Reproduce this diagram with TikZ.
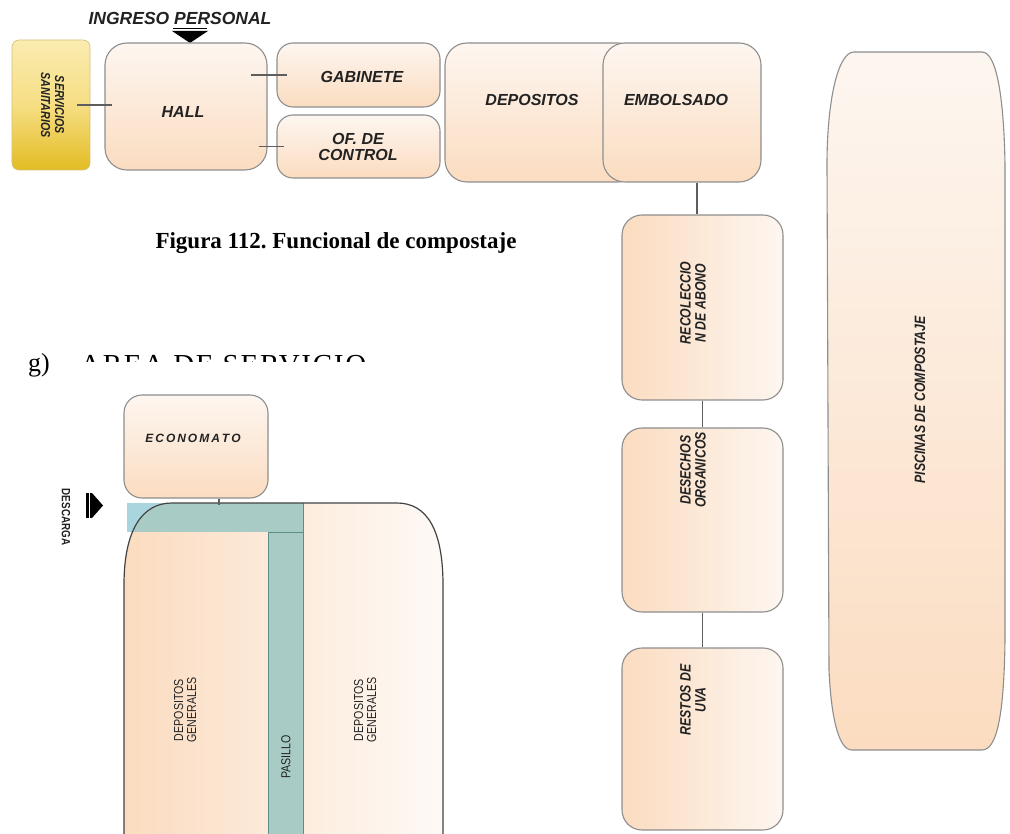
\documentclass[tikz,border=0pt]{standalone}
\usepackage{fontspec}
\setmainfont{Liberation Serif}
\newfontfamily\lblf{Liberation Sans}
\newfontfamily\narf[FakeStretch=0.82]{Liberation Sans}
\usetikzlibrary{calc}
\frenchspacing

\definecolor{peach}{HTML}{FBDCC0}
\definecolor{peachlt}{HTML}{FDF6F0}
\definecolor{boxline}{HTML}{8E8E8E}
\definecolor{wire}{HTML}{5E5E5E}
\definecolor{goldtop}{HTML}{FAECB0}
\definecolor{goldmid}{HTML}{F6DE84}
\definecolor{goldbot}{HTML}{E2BC22}
\definecolor{corridor}{HTML}{A8CCC5}
\definecolor{corridorblue}{HTML}{A9D5DE}
\definecolor{corridorline}{HTML}{5E8C87}
\definecolor{inkgray}{HTML}{222222}

\tikzset{
  room/.style={draw=boxline, line width=1.1pt, rounded corners=18pt,
    top color=peachlt, bottom color=peach, inner sep=0pt},
  roomside/.style={draw=boxline, line width=1.1pt, rounded corners=20pt,
    left color=peach, right color=peachlt, inner sep=0pt},
  lbl/.style={font=\lblf\bfseries\itshape\fontsize{16}{17}\selectfont,
    text=inkgray, align=center, inner sep=0pt},
  vlbl/.style={font=\narf\bfseries\itshape\fontsize{15}{15}\selectfont,
    text=inkgray, inner sep=0pt},
  smalllbl/.style={font=\narf\fontsize{13}{13}\selectfont,
    text=inkgray, inner sep=0pt},
  wirestyle/.style={draw=wire, line width=1.3pt},
}

\begin{document}
\begin{tikzpicture}[x=1pt, y=-1pt]
\useasboundingbox (0,0) rectangle (1010,834);
\fill[white] (0,0) rectangle (1010,834);

% ---------- compost plant ----------
\node[lbl, font=\lblf\bfseries\itshape\fontsize{17.5}{18}\selectfont, anchor=base] (ingreso) at (180,25) {INGRESO PERSONAL};
% entry marker
\draw[black, line width=0.8pt] (173,28) -- (207,28);
\fill[black] (172,31) -- (208,31) -- (190,43) -- cycle;

\node[draw=goldbot!80!black!60, line width=0.6pt, rounded corners=7pt,
  top color=goldtop, bottom color=goldbot, middle color=goldmid,
  minimum width=78pt, minimum height=130pt, inner sep=0pt] (serv) at (51,105) {};
\node[vlbl, font=\narf\bfseries\itshape\fontsize{13}{14}\selectfont, rotate=-90] (servtxt) at (serv.center)
  {\begin{tabular}{@{}c@{}}SERVICIOS\\SANITARIOS\end{tabular}};

\node[room, rounded corners=22pt, minimum width=162pt, minimum height=127pt] (hall) at (186,106.5) {};
\node[lbl] (halltxt) at (183,112) {HALL};

\node[room, rounded corners=16pt, minimum width=163pt, minimum height=64pt] (gab) at (358.5,75) {};
\node[lbl] (gabtxt) at (362,77) {GABINETE};
\node[room, rounded corners=16pt, minimum width=163pt, minimum height=63pt] (ofc) at (358.5,146.5) {};
\node[lbl, font=\lblf\bfseries\itshape\fontsize{16}{16}\selectfont] (ofctxt) at (358,147) {OF. DE\\CONTROL};

\node[room, rounded corners=22pt, minimum width=195pt, minimum height=139pt] (depo) at (542.5,112.5) {};
\node[room, rounded corners=22pt, minimum width=158pt, minimum height=139pt] (embol) at (682,112.5) {};
\node[lbl] (depotxt) at (532,100) {DEPOSITOS};
\node[lbl] (emboltxt) at (676,100) {EMBOLSADO};

\node[roomside, minimum width=161pt, minimum height=185pt] (reco) at (702.5,307.5) {};
\node[roomside, minimum width=161pt, minimum height=184pt] (dese) at (702.5,520) {};
\node[roomside, minimum width=161pt, minimum height=182pt] (resto) at (702.5,739) {};
\node[vlbl, rotate=90] (recotxt) at (695,303)
  {\begin{tabular}{@{}c@{}}RECOLECCIO\\N DE ABONO\end{tabular}};
\node[vlbl, rotate=90] (desetxt) at (695,470)
  {\begin{tabular}{@{}c@{}}DESECHOS\\ORGANICOS\end{tabular}};
\node[vlbl, rotate=90] (restotxt) at (695,700)
  {\begin{tabular}{@{}c@{}}RESTOS DE\\UVA\end{tabular}};

% composting pools
\draw[draw=boxline, line width=1.1pt, top color=peachlt, bottom color=peach]
  (854,52) -- (982,52)
  .. controls (997,52) and (1004,100) .. (1005,165)
  -- (1005,640)
  .. controls (1004,715) and (997,750) .. (982,750)
  -- (852,750)
  .. controls (838,750) and (831,715) .. (829,670)
  -- (827,165)
  .. controls (827,100) and (838,52) .. (854,52) -- cycle;
\node[vlbl, rotate=90] (pooltxt) at (920,400) {PISCINAS DE COMPOSTAJE};

% connectors
\draw[wirestyle] ([xshift=-13pt]serv.east) -- ([xshift=8pt]hall.west |- serv.east);
\draw[wirestyle] ([xshift=-17pt]hall.east |- gab.west) -- ([xshift=11pt]gab.west);
\draw[wirestyle] ([xshift=-9pt]hall.east |- ofc.west) -- ([xshift=8pt]ofc.west);
\draw[wirestyle] (reco.north -| 697,0) -- (embol.south -| 697,0);
\draw[wirestyle] (reco.south) -- (dese.north);
\draw[wirestyle] (dese.south) -- (resto.north);

% caption
\node[font=\bfseries\fontsize{23}{25}\selectfont, anchor=base, inner sep=0pt] (caption) at (336,249)
  {Figura 112. Funcional de compostaje};

% ---------- service area heading ----------
\node[font=\fontsize{26}{28}\selectfont, anchor=base west, inner sep=0pt] (itemg) at (28,372) {g)};
\begin{scope}
  \clip (70,330) rectangle (430,362);
  \node[font=\addfontfeature{LetterSpace=6}\fontsize{29}{30}\selectfont, anchor=base west, inner sep=0pt] (areatxt) at (80,374) {AREA DE SERVICIO};
\end{scope}

% ---------- service area ----------
\node[room, rounded corners=18pt, minimum width=144pt, minimum height=103pt] (econ) at (196,446.5) {};
\node[lbl, font=\lblf\bfseries\itshape\fontsize{12}{12}\selectfont] (econtxt) at (193,438) {E\,C\,O\,N\,O\,M\,A\,T\,O};

% unloading entry
\node[smalllbl, font=\narf\bfseries\fontsize{12}{12}\selectfont, rotate=-90] (descarga) at (66,517) {DESCARGA};
\fill[black] (86,493) rectangle (88.5,518);
\fill[black] (90,493) rectangle (92,518);
\fill[black] (92,493) -- (103,505.5) -- (92,518) -- cycle;

% corridor end outside the store
\fill[corridorblue] (127,503) rectangle (303,532);

% general stores
\path[left color=peach, right color=peachlt!60!white]
  (124,836) -- (124,585) .. controls (124,530) and (142,503) .. (172,503)
  -- (397,503) .. controls (427,503) and (443,530) .. (443,585) -- (443,836) -- cycle;
\begin{scope}
  \clip (124,836) -- (124,585) .. controls (124,530) and (142,503) .. (172,503)
  -- (397,503) .. controls (427,503) and (443,530) .. (443,585) -- (443,836) -- cycle;
  \fill[corridor] (127,503) rectangle (303,532);
\end{scope}
\fill[corridor] (268,532) rectangle (303,836);
\draw[corridorline, line width=1pt] (268,532) -- (303,532);
\draw[corridorline, line width=1pt] (268,532) -- (268,836);
\draw[corridorline, line width=1pt] (303,503) -- (303,836);
\draw[draw=inkgray!85, line width=1.2pt]
  (124,836) -- (124,585) .. controls (124,530) and (142,503) .. (172,503)
  -- (397,503) .. controls (427,503) and (443,530) .. (443,585) -- (443,836);

\coordinate (bartop) at (219,505);
\draw[wirestyle] (econ.south -| bartop) -- (bartop);

\node[smalllbl, rotate=90] (depgen1) at (187,710)
  {\begin{tabular}{@{}c@{}}DEPOSITOS\\GENERALES\end{tabular}};
\node[smalllbl, rotate=90] (depgen2) at (367,710)
  {\begin{tabular}{@{}c@{}}DEPOSITOS\\GENERALES\end{tabular}};
\node[smalllbl, rotate=90] (pasillo) at (286,757) {PASILLO};

\end{tikzpicture}
\end{document}
